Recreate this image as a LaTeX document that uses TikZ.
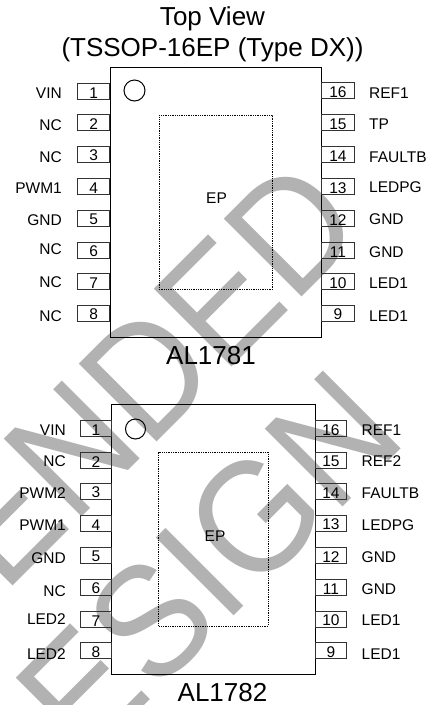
\documentclass[tikz,border=0pt]{standalone}
\usepackage{fontspec}
\setmainfont{Liberation Sans}
\newfontfamily\stampfont[FakeStretch=0.92]{Liberation Sans}
\begin{document}
\begin{tikzpicture}[
        x=1pt, y=-1pt,
        chip/.style={rectangle, draw=black, line width=0.9pt, inner sep=0pt},
        pad/.style={rectangle, draw=black, line width=0.7pt, dash pattern=on 1.3pt off 1pt, inner sep=0pt},
        pinL/.style={rectangle, draw=black!80, line width=0.8pt, minimum width=32pt, minimum height=16pt, inner sep=0pt, text height=14pt, font=\fontsize{15.5}{18}\selectfont},
        pinR/.style={pinL, minimum width=33pt},
        signalL/.style={anchor=east, inner sep=0pt, font=\fontsize{15.5}{18}\selectfont},
        signalR/.style={anchor=west, inner sep=0pt, font=\fontsize{15.5}{18}\selectfont},
        dot/.style={circle, draw=black, line width=1pt, minimum size=21pt, inner sep=0pt},
        part/.style={inner sep=0pt, align=center, font=\fontsize{26}{31}\selectfont},
        stamp/.style={rotate=45, anchor=base east, inner sep=0pt, text=black!30, font=\stampfont\fontsize{160}{160}\selectfont}
    ]
    \useasboundingbox (0,0) rectangle (434,705);
    \clip (0,0) rectangle (434,705);

    % Watermark
    \node[stamp] (stampA) at (368.6,230.4) {ENDED};
    \node[stamp] (stampB) at (410,440) {DESIGN};

    % Title
    \node[part] (title) at (212.5,34.5) {Top View\\(TSSOP-16EP (Type DX))};

    % AL1781 package
    \node[chip, minimum width=211pt, minimum height=270pt] (bodyA) at (215.7,202) {};
    \node[pad, minimum width=113.5pt, minimum height=174pt] (padA) at (215.7,202) {};
    \node[signalL, anchor=center] (epA) at (216.5,198) {EP};
    \node[dot] (dotA) at (134.5,90.5) {};
    \node[part] (nameA) at (211,356) {AL1781};

    % AL1781 left pins
    \node[pinL] (a1) at (93.7,91) {1};
    \node[pinL] (a2) at (93.7,122.5) {2};
    \node[pinL] (a3) at (93.7,154) {3};
    \node[pinL] (a4) at (93.7,186.5) {4};
    \node[pinL] (a5) at (93.7,218) {5};
    \node[pinL] (a6) at (93.7,250) {6};
    \node[pinL] (a7) at (93.7,281.5) {7};
    \node[pinL] (a8) at (93.7,313) {8};

    % AL1781 right pins
    \node[pinR] (a16) at (338,90.5) {16};
    \node[pinR] (a15) at (338,122.5) {15};
    \node[pinR] (a14) at (338,154) {14};
    \node[pinR] (a13) at (338,186.5) {13};
    \node[pinR] (a12) at (338,218) {12};
    \node[pinR] (a11) at (338,250) {11};
    \node[pinR] (a10) at (338,281.5) {10};
    \node[pinR] (a9) at (338,313) {9};

    % AL1781 signals
    \node[signalL] (sa1) at (62,93) {VIN};
    \node[signalL] (sa2) at (62,125) {NC};
    \node[signalL] (sa3) at (62,157) {NC};
    \node[signalL] (sa4) at (62,188) {PWM1};
    \node[signalL] (sa5) at (62,220) {GND};
    \node[signalL] (sa6) at (62,249) {NC};
    \node[signalL] (sa7) at (62,282) {NC};
    \node[signalL] (sa8) at (62,316) {NC};
    \node[signalR] (sa16) at (369,93) {REF1};
    \node[signalR] (sa15) at (369,124) {TP};
    \node[signalR] (sa14) at (369,157) {FAULTB};
    \node[signalR] (sa13) at (369,187) {LEDPG};
    \node[signalR] (sa12) at (369,219) {GND};
    \node[signalR] (sa11) at (369,252) {GND};
    \node[signalR] (sa10) at (369,283) {LED1};
    \node[signalR] (sa9) at (369,316) {LED1};

    % AL1782 package
    \node[chip, minimum width=203.5pt, minimum height=270pt] (bodyB) at (213.3,539.3) {};
    \node[pad, minimum width=109.5pt, minimum height=174pt] (padB) at (213.3,539) {};
    \node[signalL, anchor=center] (epB) at (215,536) {EP};
    \node[dot, minimum size=20pt] (dotB) at (135.5,429) {};
    \node[part] (nameB) at (222.5,693) {AL1782};

    % AL1782 left pins
    \node[pinL, minimum width=31pt] (b1) at (96,428.5) {1};
    \node[pinL, minimum width=31pt] (b2) at (96,460) {2};
    \node[pinL, minimum width=31pt] (b3) at (96,491) {3};
    \node[pinL, minimum width=31pt] (b4) at (96,523) {4};
    \node[pinL, minimum width=31pt] (b5) at (96,555) {5};
    \node[pinL, minimum width=31pt] (b6) at (96,587) {6};
    \node[pinL, minimum width=31pt] (b7) at (96,619) {7};
    \node[pinL, minimum width=31pt] (b8) at (96,650.5) {8};

    % AL1782 right pins
    \node[pinR, minimum width=31.7pt] (b16) at (331,428.5) {16};
    \node[pinR, minimum width=31.7pt] (b15) at (331,460) {15};
    \node[pinR, minimum width=31.7pt] (b14) at (331,491) {14};
    \node[pinR, minimum width=31.7pt] (b13) at (331,523) {13};
    \node[pinR, minimum width=31.7pt] (b12) at (331,555) {12};
    \node[pinR, minimum width=31.7pt] (b11) at (331,587) {11};
    \node[pinR, minimum width=31.7pt] (b10) at (331,619) {10};
    \node[pinR, minimum width=31.7pt] (b9) at (331,650.5) {9};

    % AL1782 signals
    \node[signalL] (sb1) at (66,430) {VIN};
    \node[signalL] (sb2) at (66,461) {NC};
    \node[signalL] (sb3) at (66,493) {PWM2};
    \node[signalL] (sb4) at (66,525) {PWM1};
    \node[signalL] (sb5) at (66,558) {GND};
    \node[signalL] (sb6) at (66,591) {NC};
    \node[signalL] (sb7) at (66,619) {LED2};
    \node[signalL] (sb8) at (66,654) {LED2};
    \node[signalR] (sb16) at (361.5,430) {REF1};
    \node[signalR] (sb15) at (361.5,461) {REF2};
    \node[signalR] (sb14) at (361.5,493) {FAULTB};
    \node[signalR] (sb13) at (361.5,525) {LEDPG};
    \node[signalR] (sb12) at (361.5,557) {GND};
    \node[signalR] (sb11) at (361.5,589) {GND};
    \node[signalR] (sb10) at (361.5,620) {LED1};
    \node[signalR] (sb9) at (361.5,654) {LED1};

\end{tikzpicture}
\end{document}
